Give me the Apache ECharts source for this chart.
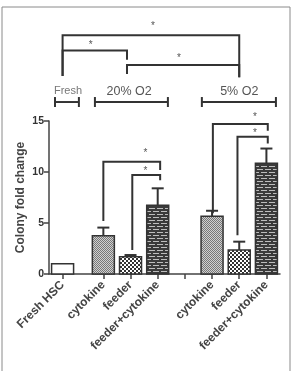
<!DOCTYPE html>
<html>
<head>
<meta charset="utf-8">
<script src="https://cdn.jsdelivr.net/npm/echarts@6/dist/echarts.min.js"></script>
<style>
  html, body { margin: 0; padding: 0; background: #fff; }
  #chart { width: 293px; height: 371px; }
</style>
</head>
<body>
<div id="chart"></div>
<script>
// category slots on the x axis (blank slots make the gaps)
const slots = ['', 'Fresh HSC', '', '', 'cytokine', '', 'feeder', '', 'feeder+cytokine',
  '', '', '', 'cytokine', '', 'feeder', '', 'feeder+cytokine', ''];
const tickSlots = [1, 4, 6, 8, 10, 12, 14, 16];
const yTicks = [0, 5, 10, 15];

// bars
const barSlots = [1, 4, 6, 8, 12, 14, 16];
const foldChange = [1.0, 3.75, 1.7, 6.75, 5.65, 2.35, 10.85];
const sem = [0, 0.8, 0.16, 1.65, 0.55, 0.82, 1.45];
const fills = ['plain', 'dots', 'checks', 'bricks', 'dots', 'checks', 'bricks'];

// significance brackets: [fromSlot, toSlot, level, leftEnd, rightEnd, starSlot, starLevel]
const brackets = [
  [1, 14, 23.4, 19.4, 19.3, 7.65, 24.5],
  [1, 5.74, 21.9, 19.4, 21.0, 3.07, 22.6],
  [5.74, 14, 20.5, 19.6, 19.3, 9.56, 21.3],
  [4, 8.18, 11.0, 5.2, 10.2, 7.1, 12.0],
  [6.13, 8.18, 9.7, 2.35, 9.2, 7.1, 10.3],
  [12.06, 16.1, 14.7, 5.95, 14.05, 15.15, 15.6],
  [13.87, 16.1, 13.46, 3.8, 12.8, 15.15, 13.95]
];

// group labels: [text, fromSlot, toSlot, textSlot]
const groups = [
  ['Fresh', 0.44, 2.2, 1.4],
  ['20% O2', 3.38, 8.75, 5.9],
  ['5% O2', 11.25, 16.7, 14.0]
];
const groupLevel = 16.86;
const groupTextLevel = 17.9;

// fill patterns
function makePattern(kind) {
  const c = document.createElement('canvas');
  const ctx = c.getContext('2d');
  if (kind === 'dots') {
    c.width = 2; c.height = 2;
    ctx.fillStyle = '#d0d0d0'; ctx.fillRect(0, 0, 2, 2);
    ctx.fillStyle = '#777'; ctx.fillRect(0, 0, 1, 1); ctx.fillRect(1, 1, 1, 1);
  } else if (kind === 'checks') {
    c.width = 4; c.height = 4;
    ctx.fillStyle = '#333'; ctx.fillRect(0, 0, 4, 4);
    ctx.fillStyle = '#fff';
    ctx.fillRect(0, 0, 2, 2); ctx.fillRect(2, 2, 2, 2);
  } else if (kind === 'bricks') {
    c.width = 8; c.height = 6;
    ctx.fillStyle = '#3a3a3a'; ctx.fillRect(0, 0, 8, 6);
    ctx.fillStyle = '#bdbdbd';
    ctx.fillRect(1, 1, 6, 1);
    ctx.fillRect(5, 4, 3, 1); ctx.fillRect(0, 4, 3, 1);
  } else {
    c.width = 1; c.height = 1;
    ctx.fillStyle = '#fff'; ctx.fillRect(0, 0, 1, 1);
  }
  return c;
}
const patterns = {};
['plain', 'dots', 'checks', 'bricks'].forEach(k => { patterns[k] = makePattern(k); });

const lineColor = '#333';
const font = 'Liberation Sans, Arial, sans-serif';
const chart = echarts.init(document.getElementById('chart'));

function slotX(api, s) {
  const p0 = api.coord([0, 0]);
  const p1 = api.coord([1, 0]);
  return p0[0] + s * (p1[0] - p0[0]);
}

chart.setOption({
  animation: false,
  textStyle: { fontFamily: font },
  graphic: [{
    type: 'rect',
    shape: { x: 2, y: 7, width: 288, height: 370 },
    style: { fill: 'none', stroke: '#8a8a8a', lineWidth: 1 },
    silent: true
  }],
  grid: { left: 49, right: 13, top: 121, bottom: 97 },
  xAxis: {
    type: 'category',
    data: slots,
    boundaryGap: false,
    axisLine: { lineStyle: { color: '#444', width: 1.5 } },
    axisTick: {
      interval: (i) => tickSlots.indexOf(i) >= 0,
      length: 5,
      lineStyle: { color: '#444', width: 1.5 }
    },
    axisLabel: {
      interval: 0, rotate: 45, margin: 9,
      fontSize: 12, fontWeight: 'bold', color: '#444'
    },
    splitLine: { show: false }
  },
  yAxis: {
    type: 'value',
    min: yTicks[0], max: yTicks[yTicks.length - 1], interval: 5,
    name: 'Colony fold change',
    nameLocation: 'middle', nameGap: 22, nameMoveOverlap: false,
    nameTextStyle: { fontSize: 12, fontWeight: 'bold', color: '#444' },
    axisLine: { show: true, lineStyle: { color: '#444', width: 1.5 } },
    axisTick: { show: true, length: 5, lineStyle: { color: '#444', width: 1.5 } },
    axisLabel: { fontSize: 10.5, fontWeight: 'bold', color: '#333', margin: 5 },
    splitLine: { show: false }
  },
  series: [
    {
      type: 'custom',
      clip: false,
      data: barSlots.map((s, i) => [s, foldChange[i], sem[i], i]),
      encode: { x: 0, y: 1 },
      renderItem: function (params, api) {
        const s = api.value(0), v = api.value(1), e = api.value(2), i = api.value(3);
        const base = api.coord([s, 0]);
        const top = api.coord([s, v]);
        const w = 22;
        const children = [];
        if (e > 0) {
          const et = api.coord([s, v + e]);
          children.push({
            type: 'line', shape: { x1: base[0], y1: top[1], x2: base[0], y2: et[1] },
            style: { stroke: lineColor, lineWidth: 2 }
          });
          children.push({
            type: 'line', shape: { x1: base[0] - 6, y1: et[1], x2: base[0] + 6, y2: et[1] },
            style: { stroke: lineColor, lineWidth: 2 }
          });
        }
        children.push({
          type: 'rect',
          shape: { x: base[0] - w / 2, y: top[1], width: w, height: base[1] - top[1] },
          style: {
            fill: { image: patterns[fills[i]], repeat: 'repeat' },
            stroke: lineColor, lineWidth: 1.5
          }
        });
        return { type: 'group', children: children };
      },
      z: 3
    },
    {
      type: 'custom',
      clip: false,
      silent: true,
      data: [[0, 0]],
      renderItem: function (params, api) {
        const children = [];
        const y = (v) => api.coord([0, v])[1];
        brackets.forEach(b => {
          const x1 = slotX(api, b[0]), x2 = slotX(api, b[1]);
          children.push({
            type: 'polyline',
            shape: { points: [[x1, y(b[3])], [x1, y(b[2])], [x2, y(b[2])], [x2, y(b[4])]] },
            style: { stroke: lineColor, lineWidth: 2, fill: 'none' }
          });
          children.push({
            type: 'text',
            style: {
              text: '*', x: slotX(api, b[5]), y: y(b[6]) + 2,
              align: 'center', verticalAlign: 'middle',
              fontSize: 10, fill: '#555', fontFamily: font
            }
          });
        });
        groups.forEach((g, k) => {
          const x1 = slotX(api, g[1]), x2 = slotX(api, g[2]), gy = y(groupLevel);
          children.push({
            type: 'line', shape: { x1: x1, y1: gy, x2: x2, y2: gy },
            style: { stroke: lineColor, lineWidth: 2 }
          });
          [x1, x2].forEach(xx => children.push({
            type: 'line', shape: { x1: xx, y1: gy - 5, x2: xx, y2: gy + 5 },
            style: { stroke: lineColor, lineWidth: 2 }
          }));
          children.push({
            type: 'text',
            style: {
              text: g[0], x: slotX(api, g[3]), y: y(groupTextLevel),
              align: 'center', verticalAlign: 'middle',
              fontSize: k === 0 ? 11 : 12.5, fill: k === 0 ? '#777' : '#555',
              fontFamily: font
            }
          });
        });
        return { type: 'group', children: children };
      },
      z: 4
    }
  ]
});
window.addEventListener('resize', function () {
  chart.resize();
});
</script>
</body>
</html>
